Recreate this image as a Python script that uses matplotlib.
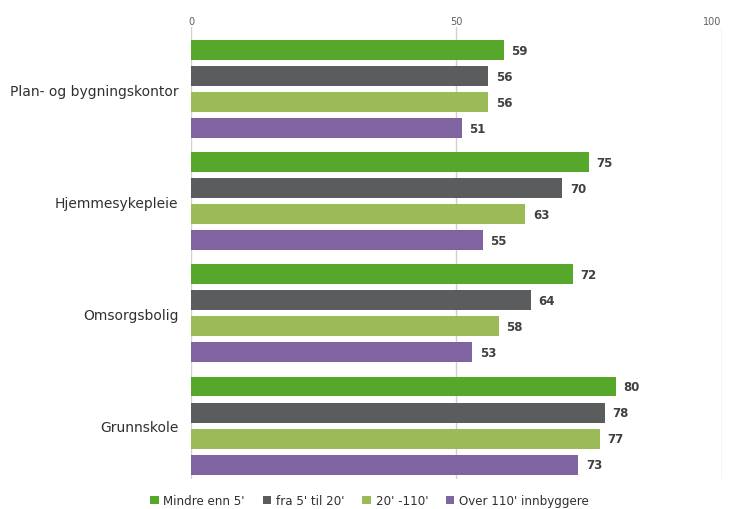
import numpy as np
import matplotlib.pyplot as plt

categories = ["Plan- og bygningskontor", "Hjemmesykepleie", "Omsorgsbolig", "Grunnskole"]
series_names = ["Mindre enn 5'", "fra 5' til 20'", "20' -110'", "Over 110' innbyggere"]
mindre_5 = [59, 75, 72, 80]
fra_5_til_20 = [56, 70, 64, 78]
fra_20_til_110 = [56, 63, 58, 77]
over_110 = [51, 55, 53, 73]
colors = ["#57a82a", "#5a5c5e", "#9bbb59", "#8064a2"]

series = [mindre_5, fra_5_til_20, fra_20_til_110, over_110]

plt.rcParams['font.family'] = ['DejaVu Sans']
fig = plt.figure(figsize=(7.29, 5.10), dpi=100)
ax = fig.add_axes([0.262, 0.0588, 0.728, 0.886])

y = np.arange(len(categories))
pitch = 0.232
height = 0.178
for i, (name, vals, c) in enumerate(zip(series_names, series, colors)):
    pos = y + (i - 1.5) * pitch
    bars = ax.barh(pos, vals, height=height, color=c, label=name, zorder=3)
    for b, v in zip(bars, vals):
        ax.text(v + 1.4, b.get_y() + b.get_height() / 2, str(v),
                va="center", ha="left", fontsize=8.5, fontweight="bold",
                color="#404040")

ax.set_xlim(0, 100)
ax.set_ylim(3.477, -0.553)
ax.set_xticks([0, 50, 100])
ax.xaxis.tick_top()
ax.tick_params(axis="x", length=0, labelsize=7, colors="#606060", pad=1)
ax.get_xticklabels()[-1].set_horizontalalignment("right")
ax.set_yticks(y)
ax.set_yticklabels(categories, fontsize=10, color="#303030")
ax.tick_params(axis="y", length=0, pad=9)
ax.grid(axis="x", color="#d0d0d0", linewidth=1, zorder=0)
for s in ax.spines.values():
    s.set_visible(False)

fig.legend(loc="lower center", bbox_to_anchor=(0.507, -0.018), ncol=4, frameon=False,
           fontsize=8.6, handlelength=0.7, handleheight=0.7, handletextpad=0.4,
           columnspacing=1.5, labelcolor="#303030")

fig.savefig("out.png", dpi=100)
